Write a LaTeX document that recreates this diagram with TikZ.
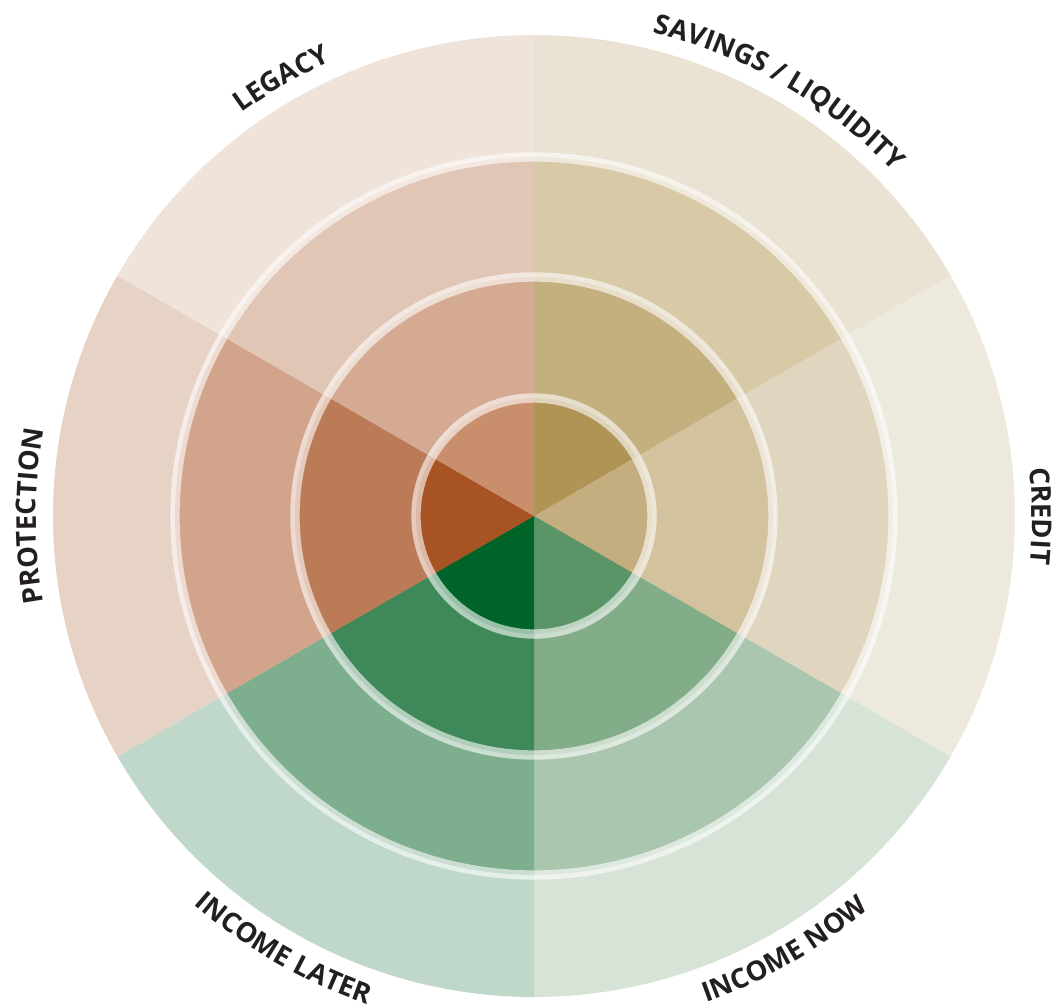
\documentclass[tikz,border=0pt]{standalone}
\usepackage{fontspec}
\setmainfont{Open Sans}
\usetikzlibrary{decorations.text}

\definecolor{labeltext}{HTML}{231F20}
% legacy
\definecolor{legacyD}{HTML}{F0E3DA}
\definecolor{legacyC}{HTML}{E1C6B5}
\definecolor{legacyB}{HTML}{D5AA93}
\definecolor{legacyA}{HTML}{C98F6D}
% savings / liquidity
\definecolor{savingsD}{HTML}{EAE3D4}
\definecolor{savingsC}{HTML}{D8C9A7}
\definecolor{savingsB}{HTML}{C4B07F}
\definecolor{savingsA}{HTML}{B09455}
% credit
\definecolor{creditD}{HTML}{EEE9DD}
\definecolor{creditC}{HTML}{E0D5BE}
\definecolor{creditB}{HTML}{D3C29E}
\definecolor{creditA}{HTML}{C4AE7F}
% income now
\definecolor{nowD}{HTML}{D6E3D6}
\definecolor{nowC}{HTML}{AAC6AE}
\definecolor{nowB}{HTML}{83AD89}
\definecolor{nowA}{HTML}{5A9467}
% income later
\definecolor{laterD}{HTML}{C0D8CA}
\definecolor{laterC}{HTML}{7DAE8E}
\definecolor{laterB}{HTML}{3F885A}
\definecolor{laterA}{HTML}{006428}
% protection
\definecolor{protectD}{HTML}{E7D3C6}
\definecolor{protectC}{HTML}{D2A48C}
\definecolor{protectB}{HTML}{BB7B57}
\definecolor{protectA}{HTML}{A85323}

\newcommand{\labelfont}{\fontsize{20.5}{24}\selectfont\bfseries\color{labeltext}}

\tikzset{
  wedge/.style={draw=none, fill=#1},
  ringline/.style={draw=white, draw opacity=0.6, line width=7pt, fill=none},
}

\begin{document}
\begin{tikzpicture}[x=0.75pt,y=0.75pt,yscale=-1,xscale=1]
\useasboundingbox (0,0) rectangle (1058,1007);

%Shape: Sectors, outer ring
\draw [wedge=savingsD] (534,516) -- ([shift={(534,516)}]-90:481) arc[start angle=-90, end angle=-30, radius=481] -- cycle;
\draw [wedge=creditD] (534,516) -- ([shift={(534,516)}]-30:481) arc[start angle=-30, end angle=30, radius=481] -- cycle;
\draw [wedge=nowD] (534,516) -- ([shift={(534,516)}]30:481) arc[start angle=30, end angle=90, radius=481] -- cycle;
\draw [wedge=laterD] (534,516) -- ([shift={(534,516)}]90:481) arc[start angle=90, end angle=150, radius=481] -- cycle;
\draw [wedge=protectD] (534,516) -- ([shift={(534,516)}]150:481) arc[start angle=150, end angle=210, radius=481] -- cycle;
\draw [wedge=legacyD] (534,516) -- ([shift={(534,516)}]210:481) arc[start angle=210, end angle=270, radius=481] -- cycle;

%Shape: Sectors, third ring
\draw [wedge=savingsC] (534,516) -- ([shift={(534,516)}]-90:359) arc[start angle=-90, end angle=-30, radius=359] -- cycle;
\draw [wedge=creditC] (534,516) -- ([shift={(534,516)}]-30:359) arc[start angle=-30, end angle=30, radius=359] -- cycle;
\draw [wedge=nowC] (534,516) -- ([shift={(534,516)}]30:359) arc[start angle=30, end angle=90, radius=359] -- cycle;
\draw [wedge=laterC] (534,516) -- ([shift={(534,516)}]90:359) arc[start angle=90, end angle=150, radius=359] -- cycle;
\draw [wedge=protectC] (534,516) -- ([shift={(534,516)}]150:359) arc[start angle=150, end angle=210, radius=359] -- cycle;
\draw [wedge=legacyC] (534,516) -- ([shift={(534,516)}]210:359) arc[start angle=210, end angle=270, radius=359] -- cycle;
%Shape: Circle
\draw [ringline] (534,516) circle [radius=359];

%Shape: Sectors, second ring
\draw [wedge=savingsB] (534,516) -- ([shift={(534,516)}]-90:239) arc[start angle=-90, end angle=-30, radius=239] -- cycle;
\draw [wedge=creditB] (534,516) -- ([shift={(534,516)}]-30:239) arc[start angle=-30, end angle=30, radius=239] -- cycle;
\draw [wedge=nowB] (534,516) -- ([shift={(534,516)}]30:239) arc[start angle=30, end angle=90, radius=239] -- cycle;
\draw [wedge=laterB] (534,516) -- ([shift={(534,516)}]90:239) arc[start angle=90, end angle=150, radius=239] -- cycle;
\draw [wedge=protectB] (534,516) -- ([shift={(534,516)}]150:239) arc[start angle=150, end angle=210, radius=239] -- cycle;
\draw [wedge=legacyB] (534,516) -- ([shift={(534,516)}]210:239) arc[start angle=210, end angle=270, radius=239] -- cycle;
%Shape: Circle
\draw [ringline] (534,516) circle [radius=239];

%Shape: Sectors, core
\draw [wedge=savingsA] (534,516) -- ([shift={(534,516)}]-90:118) arc[start angle=-90, end angle=-30, radius=118] -- cycle;
\draw [wedge=creditA] (534,516) -- ([shift={(534,516)}]-30:118) arc[start angle=-30, end angle=30, radius=118] -- cycle;
\draw [wedge=nowA] (534,516) -- ([shift={(534,516)}]30:118) arc[start angle=30, end angle=90, radius=118] -- cycle;
\draw [wedge=laterA] (534,516) -- ([shift={(534,516)}]90:118) arc[start angle=90, end angle=150, radius=118] -- cycle;
\draw [wedge=protectA] (534,516) -- ([shift={(534,516)}]150:118) arc[start angle=150, end angle=210, radius=118] -- cycle;
\draw [wedge=legacyA] (534,516) -- ([shift={(534,516)}]210:118) arc[start angle=210, end angle=270, radius=118] -- cycle;
%Shape: Circle
\draw [ringline] (534,516) circle [radius=118];

% Text along arcs
\path [decorate, decoration={text along path, text align=center, text={|\labelfont|LEGACY}}] ([shift={(534,516)}]-160:498) arc[start angle=-160, end angle=-80, radius=498];
\path [decorate, decoration={text along path, text align=center, text={|\labelfont|SAVINGS / LIQUIDITY}}] ([shift={(534,516)}]-115:498) arc[start angle=-115, end angle=-5, radius=498];
\path [decorate, decoration={text along path, text align=center, text={|\labelfont|CREDIT}}] ([shift={(534,516)}]-40:498) arc[start angle=-40, end angle=40, radius=498];
\path [decorate, decoration={text along path, text align=center, text={|\labelfont|PROTECTION}}] ([shift={(534,516)}]140:498) arc[start angle=140, end angle=220, radius=498];
\path [decorate, decoration={text along path, text align=center, text={|\labelfont|INCOME NOW}}] ([shift={(534,516)}]100:516) arc[start angle=100, end angle=20, radius=516];
\path [decorate, decoration={text along path, text align=center, text={|\labelfont|INCOME LATER}}] ([shift={(534,516)}]160:516) arc[start angle=160, end angle=80, radius=516];

\end{tikzpicture}
\end{document}
